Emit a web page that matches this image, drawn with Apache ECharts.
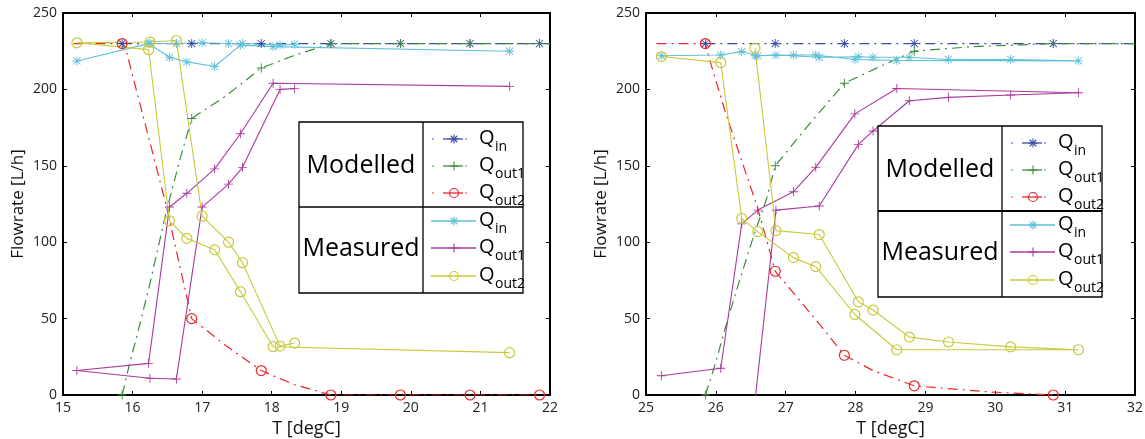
<!DOCTYPE html>
<html>
<head>
<meta charset="utf-8">
<title>Flowrate vs T</title>
<script src="https://cdn.jsdelivr.net/npm/echarts@6/dist/echarts.min.js"></script>
<style>
  html, body { margin: 0; padding: 0; background: #fff; }
  #chart { width: 1145px; height: 439px; }
</style>
</head>
<body>
<div id="chart"></div>
<script>
  // ---------- left panel (15 - 22 degC) ----------
  const lModMarkT = [15.85, 16.85, 17.85, 18.85, 19.85, 20.85, 21.85]
  const lModQinT = [15.85, 16.85, 17.85, 18.85, 19.85, 20.85, 21.85, 22]
  const lModQin = [230, 230, 230, 230, 230, 230, 230, 230]
  const lModQout1T = [15.85, 15.96, 16.07, 16.25, 16.49, 16.68, 16.85, 17.35, 17.85, 18.31, 18.85, 19.85, 20.85, 21.85, 22]
  const lModQout1 = [0, 21, 40, 73, 121, 154, 181, 196, 214, 222, 230, 230, 230, 230, 230]
  const lModQout2T = [15.15, 15.85, 15.91, 16.2, 16.49, 16.65, 16.85, 17.35, 17.85, 18.31, 18.85, 19.85, 20.85, 21.85]
  const lModQout2 = [230, 230, 225, 174, 123, 90, 50, 32, 16, 7, 0, 0, 0, 0]

  const lMeasT = [18.33, 18.12, 17.58, 17.38, 17.0, 16.63, 16.25, 15.2, 16.23, 16.53, 16.78, 17.18, 17.55, 18.02, 21.42]
  const lMeasQin = [229.5, 229, 230, 230, 230.5, 230, 230, 218.6, 230, 221, 218, 215, 229, 228, 225]
  const lMeasQout1 = [200.5, 200, 149, 138, 123, 10.5, 11, 16, 20.7, 123, 132, 148, 171, 204, 202]
  const lMeasQout2 = [34, 32, 86.6, 100, 117, 232, 231, 230.5, 226, 114, 102.5, 95, 67.6, 31.6, 27.7]

  // ---------- right panel (25 - 32 degC) ----------
  const rModMarkT = [25.85, 26.85, 27.84, 28.84, 30.83]
  const rModQinT = [25.85, 26.85, 27.84, 28.84, 29.84, 30.83, 32]
  const rModQin = [230, 230, 230, 230, 230, 230, 230]
  const rModQout1T = [25.85, 25.99, 26.16, 26.34, 26.54, 26.73, 26.85, 27.35, 27.84, 28.35, 28.84, 29.68, 30.83, 32]
  const rModQout1 = [0, 20, 48, 75, 104, 129, 150, 178, 204, 215, 225, 228, 230, 230]
  const rModQout2T = [25.15, 25.85, 25.92, 26.13, 26.35, 26.58, 26.73, 26.85, 27.49, 27.84, 28.25, 28.84, 29.92, 30.83]
  const rModQout2 = [230, 230, 218, 186, 156, 125, 101, 81, 46, 26, 16, 6, 2, 0]

  const rMeasT = [25.22, 26.07, 26.37, 26.6, 27.11, 27.43, 27.99, 28.59, 31.19, 30.22, 29.33, 28.77, 28.25, 28.04, 27.48, 26.86, 26.56]
  const rMeasQin = [222, 222.5, 224.7, 222, 222.5, 222.5, 219.6, 219, 218.7, 219.6, 219.6, 221, 221, 221.4, 221, 222.5, 222]
  const rMeasQout1 = [12.6, 17.5, 112, 121, 133, 149, 184, 200.6, 197.8, 196.3, 194.8, 192.6, 172.8, 164, 123.7, 121, -4]
  const rMeasQout2 = [221.5, 217.5, 115.6, 106.9, 89.9, 84, 52.7, 29.6, 29.6, 31.5, 34.7, 37.9, 55.6, 61, 105, 107.6, 227]

  const yTicks = [0, 50, 100, 150, 200, 250]

  const FONT = '"Open Sans", "Noto Sans", sans-serif'
  const C_QIN = '#3a4ca6'
  const C_QOUT1 = '#3a8d3a'
  const C_QOUT2 = '#e8282a'
  const C_MQIN = '#62c1d8'
  const C_MQOUT1 = '#a93a9e'
  const C_MQOUT2 = '#c9c93a'

  // matlab style markers
  const STAR = 'path://M9,0h2v20h-2z M0,9h20v2h-20z M1.4,2.8L2.8,1.4L18.6,17.2L17.2,18.6z M17.2,1.4L18.6,2.8L2.8,18.6L1.4,17.2z'
  const PLUS = 'path://M9,0h2v20h-2z M0,9h20v2h-20z'

  function markerStyle(symbol, color) {
    if (symbol === 'circle') {
      return { color: 'rgba(0,0,0,0)', borderColor: color, borderWidth: 1.2 }
    }
    return { color: color, borderWidth: 0 }
  }

  // modelled: dash-dot line, marker only on some points
  function modelled(ts, vs, marks, color, symbol, g) {
    return {
      type: 'line',
      xAxisIndex: g * 2,
      yAxisIndex: g * 2,
      showAllSymbol: true,
      symbolSize: symbol === 'circle' ? 10 : 9,
      data: ts.map((t, i) => ({
        value: [t, vs[i]],
        symbol: marks.indexOf(t) >= 0 ? symbol : 'none'
      })),
      lineStyle: { color: color, width: 1.2, type: [10, 5, 2, 5] },
      itemStyle: markerStyle(symbol, color),
      emphasis: { disabled: true }
    }
  }

  // measured: solid line, marker on each point
  function measured(ts, vs, color, symbol, g) {
    return {
      type: 'line',
      xAxisIndex: g * 2,
      yAxisIndex: g * 2,
      showAllSymbol: true,
      symbol: symbol,
      symbolSize: symbol === 'circle' ? 10 : 9,
      data: ts.map((t, i) => [t, vs[i]]),
      lineStyle: { color: color, width: 1.1 },
      itemStyle: markerStyle(symbol, color),
      emphasis: { disabled: true }
    }
  }

  function xAxes(g, min, max) {
    const line = { show: true, onZero: false, lineStyle: { color: '#000', width: 2 } }
    const tick = { show: true, inside: true, length: 4, lineStyle: { color: '#000' } }
    return [{
      gridIndex: g, type: 'value', min: min, max: max, interval: 1, position: 'bottom',
      axisLine: line, axisTick: tick, splitLine: { show: false },
      axisLabel: { color: '#222', fontSize: 14, margin: 6, fontFamily: FONT },
      name: 'T [degC]', nameLocation: 'middle', nameGap: 25,
      nameTextStyle: { fontSize: 18, color: '#111', fontFamily: FONT }
    }, {
      gridIndex: g, type: 'value', min: min, max: max, interval: 1, position: 'top',
      axisLine: line, axisTick: tick, splitLine: { show: false }, axisLabel: { show: false }
    }]
  }

  function yAxes(g) {
    const line = { show: true, onZero: false, lineStyle: { color: '#000', width: 2 } }
    const tick = { show: true, inside: true, length: 4, lineStyle: { color: '#000' } }
    return [{
      gridIndex: g, type: 'value', min: yTicks[0], max: yTicks[yTicks.length - 1], interval: 50, position: 'left',
      axisLine: line, axisTick: tick, splitLine: { show: false },
      axisLabel: { color: '#222', fontSize: 14, margin: 6, fontFamily: FONT },
      name: 'Flowrate [L/h]', nameLocation: 'middle', nameGap: 36,
      nameTextStyle: { fontSize: 17, color: '#111', fontFamily: FONT }
    }, {
      gridIndex: g, type: 'value', min: yTicks[0], max: yTicks[yTicks.length - 1], interval: 50, position: 'right',
      axisLine: line, axisTick: tick, splitLine: { show: false }, axisLabel: { show: false }
    }]
  }

  // ---------- legend table (drawn as graphics) ----------
  const legendRows = [17, 44, 71, 99, 126, 154]
  const legendItems = [
    { color: C_QIN, mark: 'star', sub: 'in', model: true },
    { color: C_QOUT1, mark: 'plus', sub: 'out1', model: true },
    { color: C_QOUT2, mark: 'circle', sub: 'out2', model: true },
    { color: C_MQIN, mark: 'star', sub: 'in', model: false },
    { color: C_MQOUT1, mark: 'plus', sub: 'out1', model: false },
    { color: C_MQOUT2, mark: 'circle', sub: 'out2', model: false }
  ]

  function markerGraphic(kind, cx, cy, color) {
    const r = 4.5
    const s = { stroke: color, lineWidth: 1.1 }
    if (kind === 'circle') {
      return [{ type: 'circle', shape: { cx: cx, cy: cy, r: r }, style: { fill: 'none', stroke: color, lineWidth: 1.2 } }]
    }
    const out = [
      { type: 'line', shape: { x1: cx - r, y1: cy, x2: cx + r, y2: cy }, style: s },
      { type: 'line', shape: { x1: cx, y1: cy - r, x2: cx, y2: cy + r }, style: s }
    ]
    if (kind === 'star') {
      const d = r * 0.72
      out.push({ type: 'line', shape: { x1: cx - d, y1: cy - d, x2: cx + d, y2: cy + d }, style: s })
      out.push({ type: 'line', shape: { x1: cx - d, y1: cy + d, x2: cx + d, y2: cy - d }, style: s })
    }
    return out
  }

  function legendTable(x0, y0, midWidth) {
    const W = 224
    const H = 171
    let els = [
      { type: 'rect', shape: { x: x0, y: y0, width: W, height: H }, style: { fill: '#fff', stroke: '#000', lineWidth: 1.3 } },
      { type: 'line', shape: { x1: x0 + 124, y1: y0, x2: x0 + 124, y2: y0 + H }, style: { stroke: '#000', lineWidth: 1.3 } },
      { type: 'line', shape: { x1: x0, y1: y0 + 85, x2: x0 + W, y2: y0 + 85 }, style: { stroke: '#000', lineWidth: midWidth } },
      { type: 'text', style: { text: 'Modelled', x: x0 + 62, y: y0 + 44, align: 'center', verticalAlign: 'middle', font: '25px ' + FONT, fill: '#000' } },
      { type: 'text', style: { text: 'Measured', x: x0 + 62, y: y0 + 127, align: 'center', verticalAlign: 'middle', font: '25px ' + FONT, fill: '#000' } }
    ]
    legendItems.forEach((it, i) => {
      const y = y0 + legendRows[i]
      if (it.model) {
        els.push({ type: 'circle', shape: { cx: x0 + 134, cy: y, r: 0.8 }, style: { fill: it.color } })
        els.push({ type: 'circle', shape: { cx: x0 + 167, cy: y, r: 0.8 }, style: { fill: it.color } })
        els.push({ type: 'line', shape: { x1: x0 + 144, y1: y, x2: x0 + 164, y2: y }, style: { stroke: it.color, lineWidth: 1.3 } })
      } else {
        els.push({ type: 'line', shape: { x1: x0 + 132, y1: y, x2: x0 + 177, y2: y }, style: { stroke: it.color, lineWidth: 1.3 } })
      }
      els = els.concat(markerGraphic(it.mark, x0 + 155, y, it.color))
      els.push({ type: 'text', style: { text: 'Q', x: x0 + 180, y: y - 1, verticalAlign: 'middle', font: '20px ' + FONT, fill: '#000' } })
      els.push({ type: 'text', style: { text: it.sub, x: x0 + 196, y: y + 8, verticalAlign: 'middle', font: '14px ' + FONT, fill: '#000' } })
    })
    return els.map(e => Object.assign({ z: 100, silent: true }, e))
  }

  const option = {
    animation: false,
    backgroundColor: '#fff',
    grid: [
      { left: 63, top: 13, width: 487, height: 382, outerBoundsMode: 'none' },
      { left: 646, top: 13, width: 489, height: 382, outerBoundsMode: 'none' }
    ],
    xAxis: xAxes(0, 15, 22).concat(xAxes(1, 25, 32)),
    yAxis: yAxes(0).concat(yAxes(1)),
    series: [
      modelled(lModQinT, lModQin, lModMarkT, C_QIN, STAR, 0),
      modelled(lModQout1T, lModQout1, lModMarkT, C_QOUT1, PLUS, 0),
      modelled(lModQout2T, lModQout2, lModMarkT, C_QOUT2, 'circle', 0),
      measured(lMeasT, lMeasQin, C_MQIN, STAR, 0),
      measured(lMeasT, lMeasQout1, C_MQOUT1, PLUS, 0),
      measured(lMeasT, lMeasQout2, C_MQOUT2, 'circle', 0),

      modelled(rModQinT, rModQin, rModMarkT, C_QIN, STAR, 1),
      modelled(rModQout1T, rModQout1, rModMarkT, C_QOUT1, PLUS, 1),
      modelled(rModQout2T, rModQout2, rModMarkT, C_QOUT2, 'circle', 1),
      measured(rMeasT, rMeasQin, C_MQIN, STAR, 1),
      measured(rMeasT, rMeasQout1, C_MQOUT1, PLUS, 1),
      measured(rMeasT, rMeasQout2, C_MQOUT2, 'circle', 1)
    ],
    graphic: legendTable(299, 122, 1.3).concat(legendTable(878, 126, 2.2))
  }

  const myChart = echarts.init(document.getElementById('chart'))
  myChart.setOption(option)
</script>
</body>
</html>
